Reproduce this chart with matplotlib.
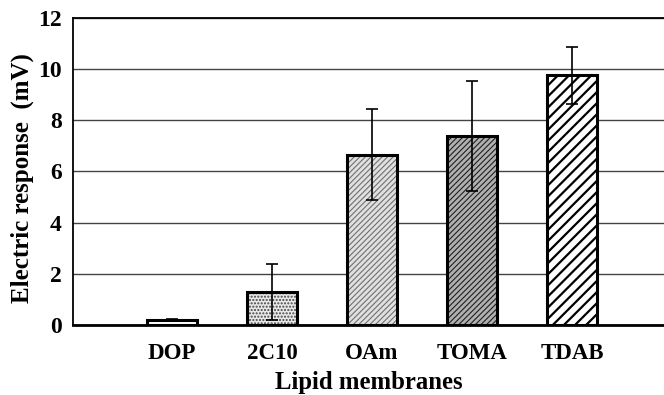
import numpy as np
import matplotlib.pyplot as plt

# bar data
categories = ['DOP', '2C10', 'OAm', 'TOMA', 'TDAB']
values = [0.2, 1.3, 6.65, 7.4, 9.75]
errors = [0.05, 1.1, 1.78, 2.15, 1.1]
yticks = [0, 2, 4, 6, 8, 10, 12]

fills = ['white', '#e8e8e8', '#e0e0e0', '#b0b0b0', 'white']
hatch_colors = ['white', '#444444', '#707070', '#202020', 'black']
hatches = ['', '.....', '//////', '//////', '///']
hatch_widths = [1.0, 1.0, 0.8, 0.8, 1.6]

plt.rcParams['font.family'] = ['Liberation Serif', 'DejaVu Serif']

fig = plt.figure(figsize=(6.64, 3.95), dpi=100)
ax = fig.add_axes([0.110, 0.177, 0.890, 0.778])

x = np.arange(len(categories))
ax.set_axisbelow(True)
ax.yaxis.grid(True, color='#444444', linewidth=1.0)

# hatched fill first, then a thick black outline on top
for xi, v, fc, hc, h, hw in zip(x, values, fills, hatch_colors, hatches, hatch_widths):
    with plt.rc_context({'hatch.linewidth': hw}):
        ax.bar(xi, v, width=0.5, color=fc, edgecolor=hc, hatch=h, linewidth=0, zorder=2)
ax.bar(x, values, width=0.5, facecolor='none', edgecolor='black', linewidth=2.2, zorder=3)
ax.errorbar(x, values, yerr=errors, fmt='none', ecolor='black', elinewidth=1.2,
            capsize=4, capthick=1.2, zorder=4)

ax.set_xlim(-0.99, 4.92)
ax.set_ylim(0, 12)
ax.set_yticks(yticks)
ax.set_xticks(x)
ax.set_xticklabels(categories, fontsize=16.5, fontweight='bold')
ax.tick_params(axis='x', length=0, pad=13)
ax.tick_params(axis='y', length=0, pad=8, labelsize=17)
for lab in ax.get_yticklabels():
    lab.set_fontweight('bold')

for s in ['left', 'top']:
    ax.spines[s].set_linewidth(1.3)
ax.spines['bottom'].set_linewidth(2.0)
ax.spines['right'].set_visible(False)

ax.set_xlabel('Lipid membranes', fontsize=17.8, fontweight='bold', labelpad=5)
ax.set_ylabel('Electric response  (mV)', fontsize=18, fontweight='bold')
ax.yaxis.set_label_coords(-0.066, 0.479)

fig.savefig('out.png', dpi=100)
